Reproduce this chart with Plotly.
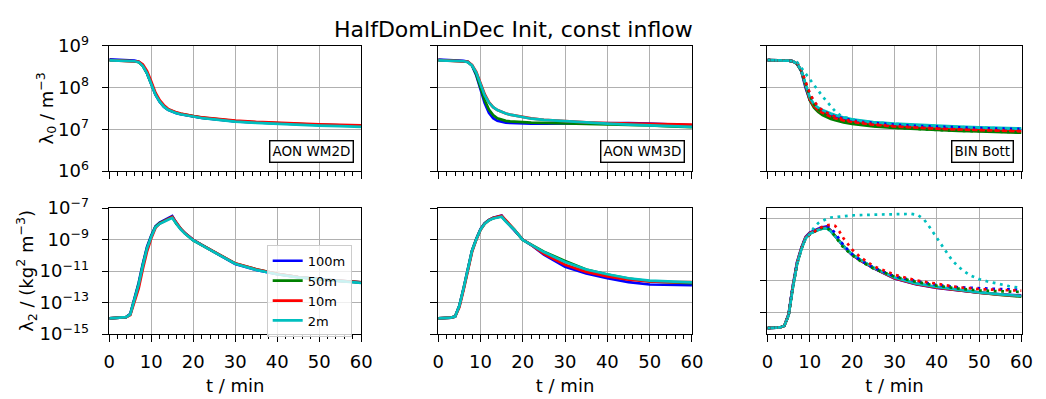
import plotly.graph_objects as go

# ---------------- data ----------------
T = [0, 3, 4, 5, 6, 7, 8, 9, 10, 11, 12, 13, 14, 15, 16, 17, 18, 20, 22, 25, 30, 35, 40, 45, 50, 55, 60]
labels = ["100m", "50m", "10m", "2m"]
colors = ["#0000ff", "#008000", "#ff0000", "#00bfbf"]
panel_names = ["AON WM2D", "AON WM3D", "BIN Bott"]

# lambda0 / m^-3  (top row)
lam0_wm2d = {
    "100m": [4.8e8, 4.7e8, 4.6e8, 4.55e8, 4.45e8, 4.2e8, 3.4e8, 2.2e8, 1.2e8, 6.8e7, 4.6e7, 3.5e7, 2.95e7, 2.65e7, 2.45e7, 2.3e7, 2.2e7, 2.0e7, 1.88e7, 1.75e7, 1.56e7, 1.46e7, 1.38e7, 1.32e7, 1.27e7, 1.24e7, 1.21e7],
    "50m":  [4.6e8, 4.5e8, 4.45e8, 4.4e8, 4.3e8, 4.1e8, 3.3e8, 2.2e8, 1.25e8, 7.0e7, 4.7e7, 3.6e7, 3.0e7, 2.7e7, 2.5e7, 2.35e7, 2.25e7, 2.05e7, 1.92e7, 1.78e7, 1.58e7, 1.47e7, 1.39e7, 1.33e7, 1.28e7, 1.24e7, 1.21e7],
    "10m":  [4.6e8, 4.5e8, 4.45e8, 4.4e8, 4.35e8, 4.2e8, 3.6e8, 2.5e8, 1.4e8, 7.6e7, 5.0e7, 3.8e7, 3.1e7, 2.8e7, 2.55e7, 2.4e7, 2.28e7, 2.08e7, 1.95e7, 1.8e7, 1.62e7, 1.51e7, 1.43e7, 1.37e7, 1.32e7, 1.28e7, 1.25e7],
    "2m":   [4.5e8, 4.45e8, 4.4e8, 4.35e8, 4.3e8, 4.1e8, 3.3e8, 2.2e8, 1.2e8, 6.8e7, 4.6e7, 3.5e7, 2.95e7, 2.65e7, 2.45e7, 2.3e7, 2.2e7, 2.0e7, 1.87e7, 1.73e7, 1.54e7, 1.43e7, 1.35e7, 1.28e7, 1.23e7, 1.19e7, 1.15e7],
}
lam0_wm3d = {
    "100m": [4.7e8, 4.6e8, 4.55e8, 4.5e8, 4.4e8, 4.2e8, 3.4e8, 2.0e8, 9.0e7, 4.3e7, 2.5e7, 1.85e7, 1.6e7, 1.5e7, 1.45e7, 1.42e7, 1.4e7, 1.38e7, 1.37e7, 1.37e7, 1.38e7, 1.4e7, 1.42e7, 1.42e7, 1.38e7, 1.32e7, 1.25e7],
    "50m":  [4.6e8, 4.5e8, 4.45e8, 4.4e8, 4.3e8, 4.15e8, 3.4e8, 2.1e8, 1.0e8, 5.0e7, 3.0e7, 2.2e7, 1.85e7, 1.7e7, 1.6e7, 1.55e7, 1.52e7, 1.48e7, 1.45e7, 1.43e7, 1.4e7, 1.38e7, 1.35e7, 1.3e7, 1.25e7, 1.18e7, 1.13e7],
    "10m":  [4.6e8, 4.5e8, 4.45e8, 4.4e8, 4.35e8, 4.2e8, 3.5e8, 2.4e8, 1.3e8, 7.0e7, 4.5e7, 3.4e7, 2.9e7, 2.6e7, 2.4e7, 2.25e7, 2.15e7, 1.95e7, 1.83e7, 1.7e7, 1.56e7, 1.47e7, 1.42e7, 1.38e7, 1.35e7, 1.32e7, 1.3e7],
    "2m":   [4.5e8, 4.45e8, 4.4e8, 4.35e8, 4.3e8, 4.1e8, 3.4e8, 2.3e8, 1.2e8, 6.5e7, 4.4e7, 3.4e7, 2.9e7, 2.6e7, 2.4e7, 2.25e7, 2.15e7, 1.92e7, 1.8e7, 1.68e7, 1.55e7, 1.45e7, 1.37e7, 1.3e7, 1.25e7, 1.2e7, 1.15e7],
}
lam0_bott = {
    "100m": [4.6e8, 4.55e8, 4.5e8, 4.45e8, 4.3e8, 3.7e8, 2.5e8, 1.0e8, 5.0e7, 3.6e7, 3.0e7, 2.6e7, 2.3e7, 2.1e7, 1.95e7, 1.83e7, 1.73e7, 1.58e7, 1.48e7, 1.37e7, 1.25e7, 1.17e7, 1.11e7, 1.07e7, 1.03e7, 1.0e7, 9.7e6],
    "50m":  [4.6e8, 4.55e8, 4.5e8, 4.45e8, 4.3e8, 3.7e8, 2.5e8, 1.05e8, 5.0e7, 3.3e7, 2.6e7, 2.2e7, 1.95e7, 1.78e7, 1.65e7, 1.55e7, 1.47e7, 1.35e7, 1.27e7, 1.18e7, 1.08e7, 1.01e7, 9.6e6, 9.2e6, 8.9e6, 8.6e6, 8.3e6],
    "10m":  [4.6e8, 4.55e8, 4.5e8, 4.45e8, 4.3e8, 3.8e8, 2.6e8, 1.1e8, 5.3e7, 3.6e7, 2.9e7, 2.5e7, 2.2e7, 2.0e7, 1.85e7, 1.72e7, 1.63e7, 1.5e7, 1.41e7, 1.3e7, 1.18e7, 1.1e7, 1.04e7, 1.0e7, 9.6e6, 9.3e6, 9.0e6],
    "2m":   [4.6e8, 4.55e8, 4.5e8, 4.45e8, 4.3e8, 3.8e8, 2.6e8, 1.15e8, 5.8e7, 4.0e7, 3.3e7, 2.9e7, 2.6e7, 2.4e7, 2.2e7, 2.05e7, 1.93e7, 1.75e7, 1.62e7, 1.5e7, 1.37e7, 1.28e7, 1.21e7, 1.16e7, 1.12e7, 1.08e7, 1.05e7],
}
lam0_bott_alt = {
    "100m": [4.6e8, 4.55e8, 4.5e8, 4.45e8, 4.35e8, 3.9e8, 2.6e8, 1.3e8, 7.0e7, 4.5e7, 3.4e7, 2.8e7, 2.45e7, 2.2e7, 2.02e7, 1.9e7, 1.8e7, 1.65e7, 1.53e7, 1.42e7, 1.3e7, 1.21e7, 1.15e7, 1.1e7, 1.07e7, 1.04e7, 1.02e7],
    "50m":  [4.6e8, 4.55e8, 4.5e8, 4.45e8, 4.35e8, 3.9e8, 2.6e8, 1.25e8, 6.5e7, 4.0e7, 3.0e7, 2.5e7, 2.15e7, 1.95e7, 1.8e7, 1.68e7, 1.58e7, 1.43e7, 1.33e7, 1.22e7, 1.1e7, 1.02e7, 9.7e6, 9.3e6, 9.0e6, 8.7e6, 8.5e6],
    "10m":  [4.6e8, 4.55e8, 4.5e8, 4.45e8, 4.35e8, 3.95e8, 2.7e8, 1.4e8, 7.5e7, 4.7e7, 3.5e7, 2.85e7, 2.45e7, 2.2e7, 2.0e7, 1.85e7, 1.74e7, 1.58e7, 1.46e7, 1.34e7, 1.2e7, 1.11e7, 1.05e7, 1.0e7, 9.7e6, 9.4e6, 9.2e6],
    "2m":   [4.6e8, 4.55e8, 4.5e8, 4.45e8, 4.35e8, 4.1e8, 3.0e8, 2.3e8, 1.7e8, 1.2e8, 8.5e7, 6.2e7, 4.6e7, 3.5e7, 2.7e7, 2.25e7, 2.0e7, 1.75e7, 1.6e7, 1.47e7, 1.34e7, 1.25e7, 1.18e7, 1.13e7, 1.09e7, 1.06e7, 1.04e7],
}

# lambda2 / (kg^2 m^-3)  (bottom row)
lam2_wm2d = {
    "100m": [1.0e-14, 1.1e-14, 1.2e-14, 1.9e-14, 1.8e-13, 1.8e-12, 3.0e-11, 3.5e-10, 1.8e-9, 7.0e-9, 1.2e-8, 1.6e-8, 2.1e-8, 3.1e-8, 1.1e-8, 4.8e-9, 2.6e-9, 9.5e-10, 4.6e-10, 1.6e-10, 2.8e-11, 1.2e-11, 6.4e-12, 4.1e-12, 3.0e-12, 2.4e-12, 1.9e-12],
    "50m":  [1.0e-14, 1.1e-14, 1.2e-14, 1.8e-14, 1.5e-13, 1.5e-12, 2.5e-11, 3.0e-10, 1.6e-9, 6.5e-9, 1.1e-8, 1.5e-8, 1.9e-8, 2.7e-8, 1.0e-8, 4.6e-9, 2.5e-9, 9.0e-10, 4.5e-10, 1.6e-10, 3.0e-11, 1.3e-11, 6.6e-12, 4.2e-12, 3.0e-12, 2.4e-12, 1.9e-12],
    "10m":  [1.0e-14, 1.1e-14, 1.2e-14, 1.6e-14, 1.0e-13, 8.0e-13, 1.4e-11, 1.8e-10, 1.2e-9, 5.5e-9, 1.05e-8, 1.5e-8, 1.9e-8, 2.7e-8, 1.2e-8, 5.0e-9, 2.6e-9, 9.5e-10, 4.6e-10, 1.7e-10, 3.1e-11, 1.3e-11, 6.6e-12, 4.2e-12, 3.0e-12, 2.4e-12, 1.95e-12],
    "2m":   [1.0e-14, 1.1e-14, 1.2e-14, 1.8e-14, 1.4e-13, 1.4e-12, 2.3e-11, 2.8e-10, 1.5e-9, 6.0e-9, 1.0e-8, 1.4e-8, 1.8e-8, 2.4e-8, 1.0e-8, 4.5e-9, 2.4e-9, 9.0e-10, 4.4e-10, 1.6e-10, 2.9e-11, 1.2e-11, 6.3e-12, 4.0e-12, 2.9e-12, 2.3e-12, 1.8e-12],
}
lam2_wm3d = {
    "100m": [1.0e-14, 1.1e-14, 1.3e-14, 6.3e-14, 8.0e-13, 1.4e-11, 2.0e-10, 1.1e-9, 4.5e-9, 1.1e-8, 1.8e-8, 2.4e-8, 2.9e-8, 3.3e-8, 1.5e-8, 7.6e-9, 4.2e-9, 1.0e-9, 4.5e-10, 1.1e-10, 1.9e-11, 7.1e-12, 3.5e-12, 2.0e-12, 1.4e-12, 1.26e-12, 1.26e-12],
    "50m":  [1.0e-14, 1.1e-14, 1.3e-14, 6.0e-14, 7.5e-13, 1.3e-11, 1.9e-10, 1.05e-9, 4.3e-9, 1.05e-8, 1.7e-8, 2.3e-8, 2.7e-8, 3.0e-8, 1.5e-8, 7.8e-9, 4.3e-9, 9.5e-10, 5.0e-10, 1.7e-10, 4.4e-11, 1.26e-11, 6.0e-12, 3.3e-12, 2.2e-12, 1.86e-12, 1.74e-12],
    "10m":  [1.0e-14, 1.1e-14, 1.3e-14, 5.0e-14, 6.0e-13, 1.0e-11, 1.6e-10, 9.5e-10, 4.0e-9, 1.0e-8, 1.7e-8, 2.3e-8, 2.8e-8, 3.2e-8, 1.7e-8, 8.0e-9, 4.3e-9, 1.0e-9, 4.6e-10, 1.26e-10, 2.5e-11, 8.9e-12, 4.5e-12, 2.8e-12, 2.2e-12, 2.0e-12, 2.0e-12],
    "2m":   [1.0e-14, 1.1e-14, 1.3e-14, 6.0e-14, 7.5e-13, 1.3e-11, 1.9e-10, 1.0e-9, 4.2e-9, 1.0e-8, 1.65e-8, 2.2e-8, 2.6e-8, 2.8e-8, 1.4e-8, 7.4e-9, 4.2e-9, 9.5e-10, 4.8e-10, 1.6e-10, 3.8e-11, 1.26e-11, 6.3e-12, 3.5e-12, 2.5e-12, 2.1e-12, 1.9e-12],
}
lam2_bott = {
    "100m": [1.0e-14, 1.1e-14, 1.4e-14, 7.9e-14, 5.0e-12, 1.6e-10, 1.26e-9, 6.3e-9, 1.2e-8, 1.66e-8, 2.1e-8, 2.6e-8, 2.9e-8, 1.6e-8, 7.9e-9, 3.5e-9, 1.6e-9, 4.6e-10, 2.0e-10, 6.6e-11, 1.45e-11, 6.3e-12, 3.6e-12, 2.5e-12, 1.8e-12, 1.4e-12, 1.2e-12],
    "50m":  [1.0e-14, 1.1e-14, 1.4e-14, 7.0e-14, 4.0e-12, 1.3e-10, 1.1e-9, 5.5e-9, 1.05e-8, 1.45e-8, 1.8e-8, 2.2e-8, 2.4e-8, 1.5e-8, 7.6e-9, 3.4e-9, 1.6e-9, 4.8e-10, 2.1e-10, 7.0e-11, 1.6e-11, 6.8e-12, 4.0e-12, 2.6e-12, 1.8e-12, 1.3e-12, 1.0e-12],
    "10m":  [1.0e-14, 1.1e-14, 1.4e-14, 7.0e-14, 4.2e-12, 1.4e-10, 1.15e-9, 5.8e-9, 1.1e-8, 1.5e-8, 1.9e-8, 2.3e-8, 2.5e-8, 1.5e-8, 7.7e-9, 3.5e-9, 1.6e-9, 4.7e-10, 2.0e-10, 6.8e-11, 1.5e-11, 6.5e-12, 3.8e-12, 2.5e-12, 1.8e-12, 1.35e-12, 1.1e-12],
    "2m":   [1.0e-14, 1.1e-14, 1.4e-14, 6.5e-14, 3.6e-12, 1.2e-10, 1.0e-9, 5.0e-9, 1.0e-8, 1.4e-8, 1.75e-8, 2.1e-8, 2.3e-8, 1.4e-8, 7.2e-9, 3.4e-9, 1.6e-9, 4.9e-10, 2.2e-10, 7.2e-11, 1.66e-11, 7.0e-12, 4.2e-12, 2.7e-12, 1.9e-12, 1.4e-12, 1.1e-12],
}
lam2_bott_alt = {
    "100m": [1.0e-14, 1.1e-14, 1.4e-14, 7.5e-14, 4.5e-12, 1.5e-10, 1.2e-9, 6.0e-9, 1.0e-8, 1.6e-8, 2.2e-8, 2.8e-8, 3.2e-8, 2.2e-8, 1.1e-8, 4.5e-9, 1.8e-9, 5.0e-10, 2.0e-10, 7.1e-11, 2.0e-11, 1.0e-11, 5.6e-12, 4.0e-12, 3.3e-12, 3.0e-12, 2.8e-12],
    "50m":  [1.0e-14, 1.1e-14, 1.4e-14, 7.0e-14, 4.0e-12, 1.3e-10, 1.1e-9, 5.5e-9, 8.9e-9, 1.4e-8, 2.0e-8, 2.4e-8, 2.5e-8, 1.5e-8, 7.1e-9, 2.8e-9, 1.26e-9, 4.5e-10, 1.8e-10, 6.3e-11, 1.9e-11, 8.9e-12, 5.0e-12, 3.3e-12, 2.5e-12, 2.2e-12, 2.0e-12],
    "10m":  [1.0e-14, 1.1e-14, 1.4e-14, 7.0e-14, 4.0e-12, 1.3e-10, 1.1e-9, 5.5e-9, 8.9e-9, 1.4e-8, 2.1e-8, 2.8e-8, 3.5e-8, 3.8e-8, 3.2e-8, 1.4e-8, 5.0e-9, 1.0e-9, 3.2e-10, 8.9e-11, 2.5e-11, 1.1e-11, 6.3e-12, 4.0e-12, 3.0e-12, 2.6e-12, 2.4e-12],
}
T_alt_2m = [0, 3, 4, 5, 6, 7, 8, 9, 10, 11, 12, 13, 14, 15, 17, 20, 25, 30, 34, 35.5, 37, 38, 39, 40, 41, 42, 43, 44, 46, 48, 50, 52, 54, 57, 60]
lam2_bott_alt_2m = [1.0e-14, 1.1e-14, 1.4e-14, 6.5e-14, 3.6e-12, 1.2e-10, 1.0e-9, 5.0e-9, 1.0e-8, 2.5e-8, 4.8e-8, 6.8e-8, 8.9e-8, 1.1e-7, 1.3e-7, 1.5e-7, 1.66e-7, 1.78e-7, 1.86e-7, 1.6e-7, 7.9e-8, 3.5e-8, 1.4e-8, 5.6e-9, 2.0e-9, 7.9e-10, 3.5e-10, 1.6e-10, 5.0e-11, 2.2e-11, 1.3e-11, 9.3e-12, 6.9e-12, 4.7e-12, 3.5e-12]

# ---------------- figure ----------------
W, H = 1046, 399
xdom = [(105, 361), (439.3, 697.3), (774, 1032.3)]
ydom_top = (35, 167.7)
ydom_bot = (207, 340.7)

def px_x(a, b):
    return [a / W, b / W]

def px_y(top, bot):
    return [1 - bot / H, 1 - top / H]

fig = go.Figure()
LW = 2.7
DOT = "2.8px,4.6px"

def add(ax, x, y, color, dash=None, name=None, show=False):
    fig.add_trace(go.Scatter(
        x=x, y=y, mode="lines", name=name, showlegend=show,
        line=dict(color=color, width=LW, dash=dash if dash else "solid"),
        xaxis="x" + ("" if ax == 1 else str(ax)), yaxis="y" + ("" if ax == 1 else str(ax)),
        hoverinfo="skip"))

# top row
for ax, data in [(1, lam0_wm2d), (2, lam0_wm3d), (3, lam0_bott)]:
    for lab, col in zip(labels, colors):
        add(ax, T, data[lab], col)
for lab, col in zip(labels, colors):
    add(3, T, lam0_bott_alt[lab], col, dash=DOT)

# bottom row
for ax, data in [(4, lam2_wm2d), (5, lam2_wm3d), (6, lam2_bott)]:
    for lab, col in zip(labels, colors):
        add(ax, T, data[lab], col, name=lab, show=(ax == 4))
for lab, col in zip(labels[:3], colors[:3]):
    add(6, T, lam2_bott_alt[lab], col, dash=DOT)
add(6, T_alt_2m, lam2_bott_alt_2m, colors[3], dash=DOT)

FONT = "DejaVu Sans"
tickfont = dict(family=FONT, size=18, color="black")
common = dict(showline=True, mirror=True, linecolor="black", linewidth=1.4,
              showgrid=True, gridcolor="#b0b0b0", gridwidth=1.4,
              ticks="outside", ticklen=6.5, tickwidth=1.4, tickcolor="black",
              zeroline=False, tickfont=tickfont, ticklabelposition="outside")

layout = {}
for i in range(6):
    row = 0 if i < 3 else 1
    col = i % 3
    n = i + 1
    xk = "xaxis" if n == 1 else "xaxis%d" % n
    yk = "yaxis" if n == 1 else "yaxis%d" % n
    yd = ydom_top if row == 0 else ydom_bot
    xa = dict(common, domain=px_x(*xdom[col]), range=[0, 60], tick0=0, dtick=10,
              anchor="y" if n == 1 else "y%d" % n,
              minor=dict(dtick=2, tick0=0, ticks="outside", ticklen=3.6, tickwidth=1.1, tickcolor="black", showgrid=False),
              showticklabels=(row == 1))
    if row == 1:
        xa["ticklabelstandoff"] = 5
        xa["title"] = dict(text="t / min", font=dict(family=FONT, size=18, color="black"), standoff=8)
    if row == 0:
        tv = [1e6, 1e7, 1e8, 1e9]
        tt = ["10<sup>6</sup>", "10<sup>7</sup>", "10<sup>8</sup>", "10<sup>9</sup>"]
        rng = [6, 9]
    else:
        if col == 2:
            tv = [1e-13, 1e-11, 1e-9, 1e-7]
            tt = None
            rng = [-14.38, -6.36]
        else:
            tv = [1e-15, 1e-13, 1e-11, 1e-9, 1e-7]
            tt = ["10<sup>\u221215</sup>", "10<sup>\u221213</sup>", "10<sup>\u221211</sup>", "10<sup>\u22129</sup>", "10<sup>\u22127</sup>"]
            rng = [-15, -7]
    ya = dict(common, domain=px_y(*yd), type="log", range=rng, tickvals=tv,
              anchor="x" if n == 1 else "x%d" % n, showticklabels=(col == 0))
    if tt is not None:
        ya["ticktext"] = tt
    if col == 0:
        ya["ticklabelstandoff"] = 9
    layout[xk] = xa
    layout[yk] = ya

annotations = [
    dict(text="HalfDomLinDec Init, const inflow", x=516 / W, y=1 - 17 / H, xref="paper", yref="paper",
         showarrow=False, font=dict(family=FONT, size=22, color="black"), xanchor="center", yanchor="middle"),
    dict(text="\u03bb<sub>0</sub> / m<sup>\u22123</sup>", x=41 / W, y=1 - 101 / H, xref="paper", yref="paper",
         showarrow=False, textangle=-90, font=dict(family=FONT, size=18, color="black"),
         xanchor="center", yanchor="middle"),
    dict(text="\u03bb<sub>2</sub> / (kg<sup>2</sup> m<sup>\u22123</sup>)", x=21 / W, y=1 - 274 / H, xref="paper", yref="paper",
         showarrow=False, textangle=-90, font=dict(family=FONT, size=18, color="black"),
         xanchor="center", yanchor="middle"),
]
for k, name in enumerate(panel_names):
    n = k + 1
    annotations.append(dict(
        text=name, x=0.971, y=0.063,
        xref=("x" if n == 1 else "x%d" % n) + " domain", yref=("y" if n == 1 else "y%d" % n) + " domain",
        xanchor="right", yanchor="bottom", showarrow=False,
        font=dict(family=FONT, size=13.5, color="black"),
        bgcolor="white", bordercolor="black", borderwidth=1.4, borderpad=2))

fig.update_layout(
    width=W, height=H, margin=dict(l=0, r=0, t=0, b=0),
    paper_bgcolor="white", plot_bgcolor="white",
    font=dict(family=FONT, color="black"),
    annotations=annotations,
    legend=dict(x=265 / W, y=1 - 246 / H, xanchor="left", yanchor="top",
                bgcolor="rgba(255,255,255,0.8)", bordercolor="#cccccc", borderwidth=1,
                font=dict(family=FONT, size=13, color="black"), tracegroupgap=0),
    **layout)

fig.write_html("out.html")
